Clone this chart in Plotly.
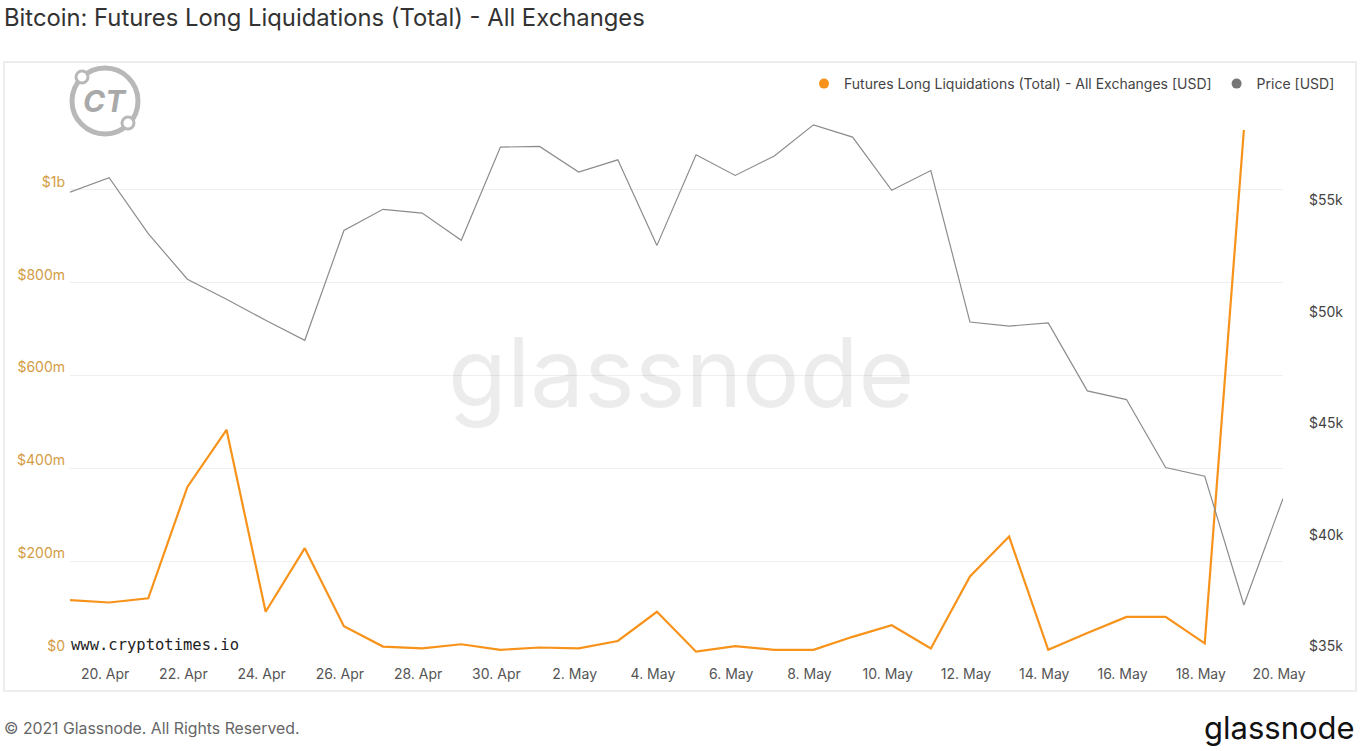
import plotly.graph_objects as go
import pandas as pd

# ---------------- data ----------------
dates = pd.date_range("2021-04-19", "2021-05-20", freq="D")

liq_musd = [116, 111, 120, 360, 483, 91, 228, 60, 16, 12, 21, 9, 14, 12, 28, 91,
            5, 17, 9, 9, 37, 62, 12, 167, 253, 9, 45, 80, 80, 23, 1129, None]

price_kusd = [55.73, 56.38, 53.87, 51.82, 50.92, 49.98, 49.08, 54.01, 54.96, 54.79,
              53.57, 57.75, 57.78, 56.63, 57.18, 53.34, 57.41, 56.48, 57.35, 58.75,
              58.20, 55.81, 56.70, 49.90, 49.72, 49.86, 46.81, 46.42, 43.37, 42.98,
              37.20, 41.98]

left_tickvals = [0, 200e6, 400e6, 600e6, 800e6, 1e9, 1.2e9]
left_ticktext = ["$0", "$200m", "$400m", "$600m", "$800m", "$1b", ""]
right_tickvals = [35000, 40000, 45000, 50000, 55000]
right_ticktext = ["$35k", "$40k", "$45k", "$50k", "$55k"]
x_tickvals = pd.date_range("2021-04-20", "2021-05-20", freq="2D")

liq_name = "Futures Long Liquidations (Total) - All Exchanges [USD]"
price_name = "Price [USD]"

ORANGE = "#f7931a"
GREY = "#8c8c8c"

liq = [v * 1e6 if v is not None else None for v in liq_musd]
price = [v * 1000 for v in price_kusd]

# ---------------- geometry helpers ----------------
W, H = 1360, 751
L, R = 70, 1283     # plot area x in px
T, B = 97, 654      # plot area y in px


def px(x):
    return (x - L) / (R - L)


def py(y):
    return (B - y) / (B - T)


FONT = "Inter, Roboto, 'Open Sans', sans-serif"

fig = go.Figure()

fig.add_trace(go.Scatter(x=dates, y=price, mode="lines", yaxis="y2",
                         line=dict(color=GREY, width=1.2), showlegend=False,
                         name=price_name))
fig.add_trace(go.Scatter(x=dates, y=liq, mode="lines",
                         line=dict(color=ORANGE, width=2.2), showlegend=False,
                         name=liq_name))
# legend entries (round dots)
fig.add_trace(go.Scatter(x=[None], y=[None], mode="markers", name=liq_name,
                         marker=dict(color=ORANGE, size=10)))
fig.add_trace(go.Scatter(x=[None], y=[None], mode="markers", name=price_name,
                         marker=dict(color="#777777", size=10), yaxis="y2"))

shapes = [
    # panel border
    dict(type="rect", xref="paper", yref="paper",
         x0=px(4), x1=px(1356), y0=py(691), y1=py(62),
         line=dict(color="#e8e8e8", width=1.5), fillcolor="rgba(0,0,0,0)",
         layer="below"),
    # CT logo ring
    dict(type="circle", xref="paper", yref="paper",
         x0=px(72), x1=px(138), y0=py(134), y1=py(68),
         line=dict(color="#b8b8b8", width=5), layer="below"),
    dict(type="circle", xref="paper", yref="paper",
         x0=px(76), x1=px(88), y0=py(83), y1=py(71),
         fillcolor="white", line=dict(color="#b8b8b8", width=3), layer="below"),
    dict(type="circle", xref="paper", yref="paper",
         x0=px(122), x1=px(134), y0=py(129), y1=py(117),
         fillcolor="white", line=dict(color="#b8b8b8", width=3), layer="below"),
]

annotations = [
    dict(text="Bitcoin: Futures Long Liquidations (Total) - All Exchanges",
         xref="paper", yref="paper", x=px(2), y=py(18), xanchor="left",
         yanchor="middle", showarrow=False,
         font=dict(family=FONT, size=23.8, color="#333333")),
    dict(text="© 2021 Glassnode. All Rights Reserved.",
         xref="paper", yref="paper", x=px(2), y=py(728), xanchor="left",
         yanchor="middle", showarrow=False,
         font=dict(family=FONT, size=15.8, color="#666666")),
    dict(text="glassnode", xref="paper", yref="paper", x=px(1357), y=py(727),
         xanchor="right", yanchor="middle", showarrow=False,
         font=dict(family=FONT, size=31, color="#111111")),
    # big watermark
    dict(text="glassnode", xref="paper", yref="paper", x=px(681), y=py(372),
         xanchor="center", yanchor="middle", showarrow=False,
         font=dict(family=FONT, size=96, color="rgba(0,0,0,0.075)")),
    # CT logo letters
    dict(text="<b><i>CT</i></b>", xref="paper", yref="paper", x=px(105), y=py(101),
         xanchor="center", yanchor="middle", showarrow=False,
         font=dict(family=FONT, size=30, color="#a9a9a9")),
    dict(text="www.cryptotimes.io", xref="paper", yref="paper", x=px(69), y=py(645),
         xanchor="left", yanchor="middle", showarrow=False,
         font=dict(family="DejaVu Sans Mono, monospace", size=15.5, color="#222222")),
]

fig.update_layout(
    width=W, height=H,
    margin=dict(l=L, r=W - R, t=T, b=H - B, pad=0),
    paper_bgcolor="white", plot_bgcolor="white",
    font=dict(family=FONT, size=14, color="#444444"),
    showlegend=True,
    legend=dict(orientation="h", x=px(1340), xanchor="right", y=py(84),
                yanchor="middle", font=dict(family=FONT, size=14, color="#444444"),
                itemwidth=30, bgcolor="rgba(0,0,0,0)", tracegroupgap=0),
    xaxis=dict(type="date", range=[dates[0], dates[-1]], tickvals=x_tickvals,
               tickformat="%-d. %b", showgrid=False, zeroline=False,
               showline=False, ticks="", ticklabelstandoff=10, ticklabelshift=-4,
               tickfont=dict(family=FONT, size=14, color="#555555")),
    yaxis=dict(range=[0, 1.2e9], tickvals=left_tickvals, ticktext=left_ticktext,
               showgrid=True, gridcolor="#efefef", gridwidth=1, zeroline=False,
               showline=False, ticks="", ticklabelshift=-8, ticklabelstandoff=4,
               tickfont=dict(family=FONT, size=14, color="#d39c45")),
    yaxis2=dict(range=[35000, 60000], tickvals=right_tickvals,
                ticktext=right_ticktext, overlaying="y", side="right",
                showgrid=False, zeroline=False, showline=False, ticks="",
                ticklabelshift=-8, ticklabelstandoff=25,
                tickfont=dict(family=FONT, size=14, color="#444444")),
    shapes=shapes,
    annotations=annotations,
)

fig.write_html("out.html")
